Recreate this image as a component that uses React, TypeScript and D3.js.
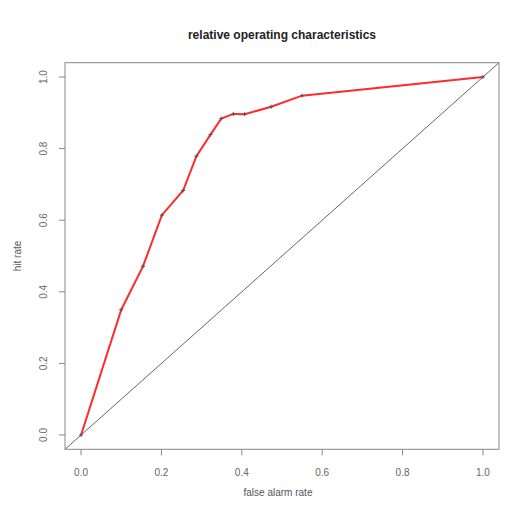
import React, { useEffect, useRef } from 'react';
import * as d3 from 'd3';

// ROC points
const falseAlarm = [0, 0.1, 0.154, 0.201, 0.254, 0.287, 0.322, 0.349, 0.379, 0.407, 0.473, 0.55, 1];
const hitRate = [0, 0.35, 0.471, 0.614, 0.683, 0.779, 0.839, 0.884, 0.897, 0.896, 0.917, 0.948, 1];
const ticks = [0, 0.2, 0.4, 0.6, 0.8, 1.0];

const title = 'relative operating characteristics';
const xTitle = 'false alarm rate';
const yTitle = 'hit rate';

function App() {
  const ref = useRef<SVGSVGElement>(null);

  useEffect(() => {
    const width = 519;
    const height = 506;
    const box = { left: 65, right: 499, top: 62.7, bottom: 449.3 };

    const svg = d3.select(ref.current);
    svg.selectAll('*').remove();

    // R style 4% padding around the data range
    const x = d3.scaleLinear().domain([-0.04, 1.04]).range([box.left, box.right]);
    const y = d3.scaleLinear().domain([-0.04, 1.04]).range([box.bottom, box.top]);

    svg.attr('width', width).attr('height', height).attr('font-family', 'Liberation Sans, Arial, sans-serif');

    svg.append('rect').attr('width', width).attr('height', height).attr('fill', 'white');

    // title
    svg.append('text')
      .attr('x', (box.left + box.right) / 2)
      .attr('y', 39)
      .attr('text-anchor', 'middle')
      .attr('font-size', 12)
      .attr('font-weight', 'bold')
      .attr('fill', '#222')
      .text(title);

    // diagonal
    svg.append('line')
      .attr('x1', x(-0.04)).attr('y1', y(-0.04))
      .attr('x2', x(1.04)).attr('y2', y(1.04))
      .attr('stroke', '#666')
      .attr('stroke-width', 1);

    // roc curve
    const pts = falseAlarm.map((f, i) => [f, hitRate[i]] as [number, number]);
    const line = d3.line<[number, number]>().x(d => x(d[0])).y(d => y(d[1]));
    svg.append('path')
      .attr('d', line(pts))
      .attr('fill', 'none')
      .attr('stroke', '#ff2a2a')
      .attr('stroke-width', 2);

    // markers
    svg.append('g').selectAll('path')
      .data(pts)
      .enter()
      .append('path')
      .attr('d', d => `M${x(d[0]) - 2},${y(d[1])}h4M${x(d[0])},${y(d[1]) - 2}v4`)
      .attr('stroke', '#555')
      .attr('stroke-width', 1);

    // box
    svg.append('rect')
      .attr('x', box.left).attr('y', box.top)
      .attr('width', box.right - box.left)
      .attr('height', box.bottom - box.top)
      .attr('fill', 'none')
      .attr('stroke', '#888')
      .attr('stroke-width', 1);

    // x axis
    const xAxis = svg.append('g');
    ticks.forEach(t => {
      xAxis.append('line')
        .attr('x1', x(t)).attr('x2', x(t))
        .attr('y1', box.bottom).attr('y2', box.bottom + 6)
        .attr('stroke', '#888');
      xAxis.append('text')
        .attr('x', x(t)).attr('y', 476)
        .attr('text-anchor', 'middle')
        .attr('font-size', 10)
        .attr('fill', '#666')
        .text(t.toFixed(1));
    });

    // y axis
    const yAxis = svg.append('g');
    ticks.forEach(t => {
      yAxis.append('line')
        .attr('x1', box.left - 6).attr('x2', box.left)
        .attr('y1', y(t)).attr('y2', y(t))
        .attr('stroke', '#888');
      yAxis.append('text')
        .attr('transform', `translate(47,${y(t)}) rotate(-90)`)
        .attr('text-anchor', 'middle')
        .attr('font-size', 10)
        .attr('fill', '#666')
        .text(t.toFixed(1));
    });

    svg.append('text')
      .attr('x', (box.left + box.right) / 2 - 4)
      .attr('y', 496)
      .attr('text-anchor', 'middle')
      .attr('font-size', 10)
      .attr('fill', '#555')
      .text(xTitle);

    svg.append('text')
      .attr('transform', `translate(21,${(box.top + box.bottom) / 2}) rotate(-90)`)
      .attr('text-anchor', 'middle')
      .attr('font-size', 10)
      .attr('fill', '#555')
      .text(yTitle);
  }, []);

  return (
    <div style={{ margin: -8 }}>
      <svg ref={ref} style={{ display: 'block' }} />
    </div>
  );
}

export default App;
